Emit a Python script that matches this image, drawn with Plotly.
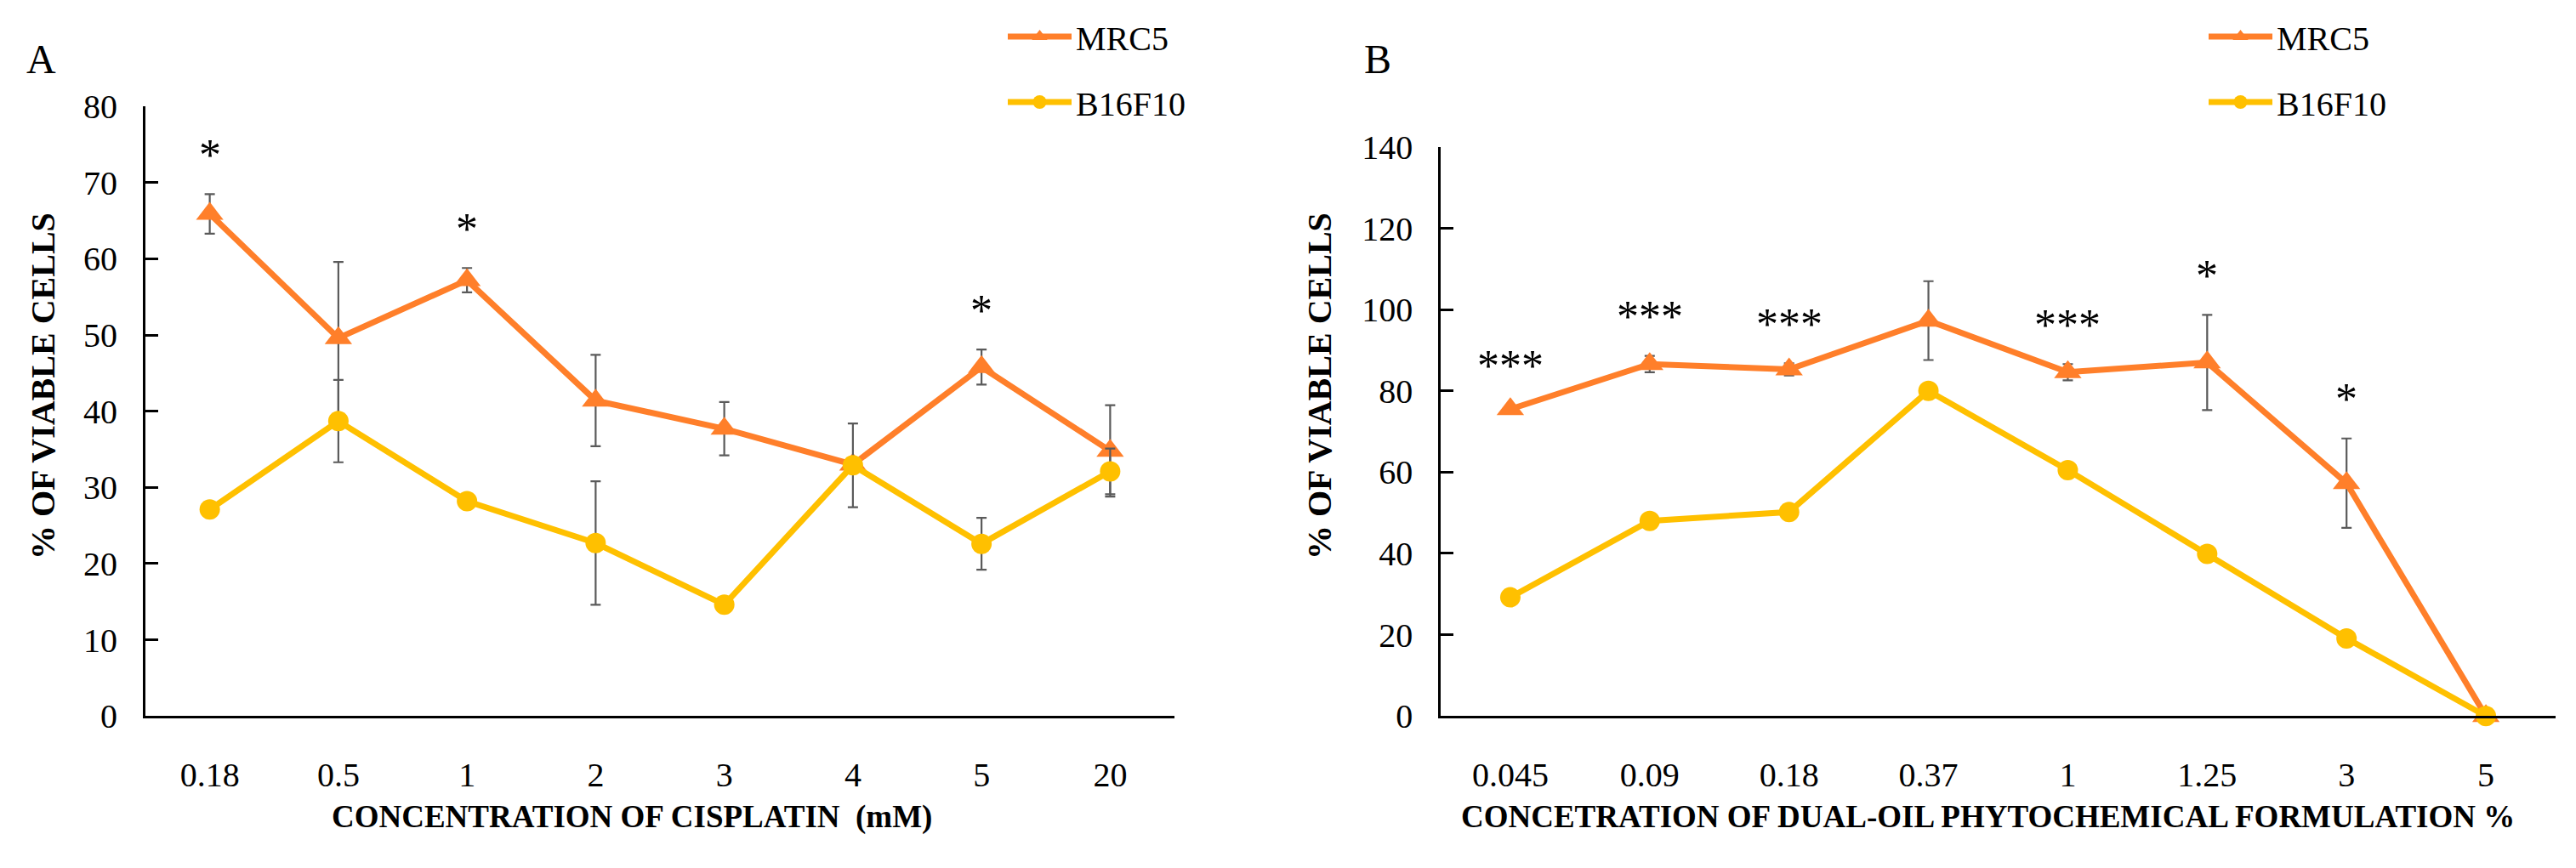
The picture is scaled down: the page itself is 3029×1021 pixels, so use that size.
import plotly.graph_objects as go

# ---------------- data ----------------
cis_labels = ["0.18", "0.5", "1", "2", "3", "4", "5", "20"]
cis_mrc5 = [65.9, 49.6, 57.2, 41.4, 37.7, 33.0, 45.8, 34.8]
cis_mrc5_err = [2.6, 10.0, 1.6, 6.0, 3.5, 0.5, 2.3, 6.0]
cis_b16 = [27.1, 38.7, 28.2, 22.7, 14.6, 32.9, 22.6, 32.1]
cis_b16_err = [0.0, 5.4, 0.0, 8.1, 0.0, 5.5, 3.4, 3.0]
cis_sig = ["*", "", "*", "", "", "", "*", ""]

dof_labels = ["0.045", "0.09", "0.18", "0.37", "1", "1.25", "3", "5"]
dof_mrc5 = [75.5, 86.6, 85.3, 97.3, 84.6, 87.0, 57.3, 0.0]
dof_mrc5_err = [1.0, 2.0, 1.5, 9.7, 2.0, 11.7, 11.0, 0.0]
dof_b16 = [29.2, 48.0, 50.2, 80.0, 60.5, 39.9, 19.1, 0.0]
dof_b16_err = [0.0, 0.0, 0.0, 0.0, 0.0, 0.0, 0.0, 0.0]
dof_sig = ["***", "***", "***", "", "***", "*", "*", ""]

series_names = ["MRC5", "B16F10"]

# ---------------- style ----------------
W, H = 3029, 1021
ORANGE = "#FF7F2A"
GOLD = "#FFC000"
ERR = "#5A5A5A"
FONT = "Liberation Serif"


def px_x(p):
    return p / W


def px_y(p):
    return (H - p) / H


fig = go.Figure()


def add_panel(xa, ya, labels, mrc, mrc_err, b16, b16_err, legend):
    fig.add_trace(go.Scatter(
        x=labels, y=mrc, name=series_names[0], mode="lines+markers",
        xaxis=xa, yaxis=ya, legend=legend, legendgroup=legend + "a",
        line=dict(color=ORANGE, width=7),
        marker=dict(symbol="triangle-up", size=28, color=ORANGE),
        error_y=dict(type="data", array=mrc_err, visible=True,
                     color=ERR, thickness=2.2, width=6),
        cliponaxis=False,
    ))
    fig.add_trace(go.Scatter(
        x=labels, y=b16, name=series_names[1], mode="lines+markers",
        xaxis=xa, yaxis=ya, legend=legend, legendgroup=legend + "b",
        line=dict(color=GOLD, width=7),
        marker=dict(symbol="circle", size=24, color=GOLD),
        error_y=dict(type="data", array=b16_err, visible=True,
                     color=ERR, thickness=2.2, width=6),
        cliponaxis=False,
    ))


add_panel("x", "y", cis_labels, cis_mrc5, cis_mrc5_err, cis_b16, cis_b16_err, "legend")
add_panel("x2", "y2", dof_labels, dof_mrc5, dof_mrc5_err, dof_b16, dof_b16_err, "legend2")

# significance marks, placed above the MRC5 error bars (x given as category index)
annotations = []
for xr, yr, vals, errs, sig in [
    ("x", "y", cis_mrc5, cis_mrc5_err, cis_sig),
    ("x2", "y2", dof_mrc5, dof_mrc5_err, dof_sig),
]:
    for i, (v, e, s) in enumerate(zip(vals, errs, sig)):
        if s:
            annotations.append(dict(
                x=i, y=v + e, xref=xr, yref=yr, text=s, showarrow=False,
                yanchor="middle", yshift=46,
                font=dict(family=FONT, size=52, color="black"),
            ))

title_font = dict(family=FONT, size=37, color="black")
ytitle_font = dict(family=FONT, size=40, color="black")
annotations += [
    dict(text="<b>CONCENTRATION OF CISPLATIN  (mM)</b>", x=px_x(743), y=px_y(982),
         xref="paper", yref="paper", showarrow=False, font=title_font,
         xanchor="center", yanchor="middle"),
    dict(text="<b>CONCETRATION OF DUAL-OIL PHYTOCHEMICAL FORMULATION %</b>",
         x=px_x(2337), y=px_y(982), xref="paper", yref="paper", showarrow=False,
         font=title_font, xanchor="center", yanchor="middle"),
    dict(text="<b>% OF VIABLE CELLS</b>", x=px_x(50), y=px_y(452), xref="paper",
         yref="paper", showarrow=False, textangle=-90, font=ytitle_font,
         xanchor="center", yanchor="middle"),
    dict(text="<b>% OF VIABLE CELLS</b>", x=px_x(1551), y=px_y(452), xref="paper",
         yref="paper", showarrow=False, textangle=-90, font=ytitle_font,
         xanchor="center", yanchor="middle"),
    dict(text="A", x=px_x(48), y=px_y(50), xref="paper", yref="paper",
         showarrow=False, font=dict(family=FONT, size=48, color="black"),
         xanchor="center", yanchor="middle"),
    dict(text="B", x=px_x(1620), y=px_y(50), xref="paper", yref="paper",
         showarrow=False, font=dict(family=FONT, size=48, color="black"),
         xanchor="center", yanchor="middle"),
]

tick_font = dict(family=FONT, size=40, color="black")

xcommon = dict(type="category", range=[-0.5, 7.5], showline=True, linecolor="black",
               ticks="", showgrid=False, zeroline=False, tickfont=tick_font,
               ticklabelstandoff=32, fixedrange=True)
ycommon = dict(showline=True, linecolor="black", ticks="inside", ticklen=15,
               tickcolor="black", showgrid=False, zeroline=False, tickfont=tick_font,
               ticklabelstandoff=22, fixedrange=True)

legend_common = dict(font=dict(family=FONT, size=40, color="black"),
                     bgcolor="rgba(0,0,0,0)", itemwidth=75, traceorder="grouped",
                     tracegroupgap=22, yanchor="top", xanchor="left")

fig.update_layout(
    width=W, height=H,
    margin=dict(l=0, r=0, t=0, b=0),
    paper_bgcolor="white", plot_bgcolor="white",
    showlegend=True,
    xaxis=dict(domain=[px_x(171), px_x(1381)], anchor="y", linewidth=3, **xcommon),
    yaxis=dict(domain=[px_y(858), px_y(108)], anchor="x", range=[0, 80], dtick=10,
               linewidth=3, tickwidth=3, **ycommon),
    xaxis2=dict(domain=[px_x(1694), px_x(3005)], anchor="y2", linewidth=2.5, **xcommon),
    yaxis2=dict(domain=[px_y(858), px_y(158)], anchor="x2", range=[0, 140], dtick=20,
                linewidth=2.5, tickwidth=2.5, **ycommon),
    legend=dict(x=px_x(1180), y=px_y(-12), **legend_common),
    legend2=dict(x=px_x(2592), y=px_y(-12), **legend_common),
    annotations=annotations,
)

fig.write_html("out.html")
